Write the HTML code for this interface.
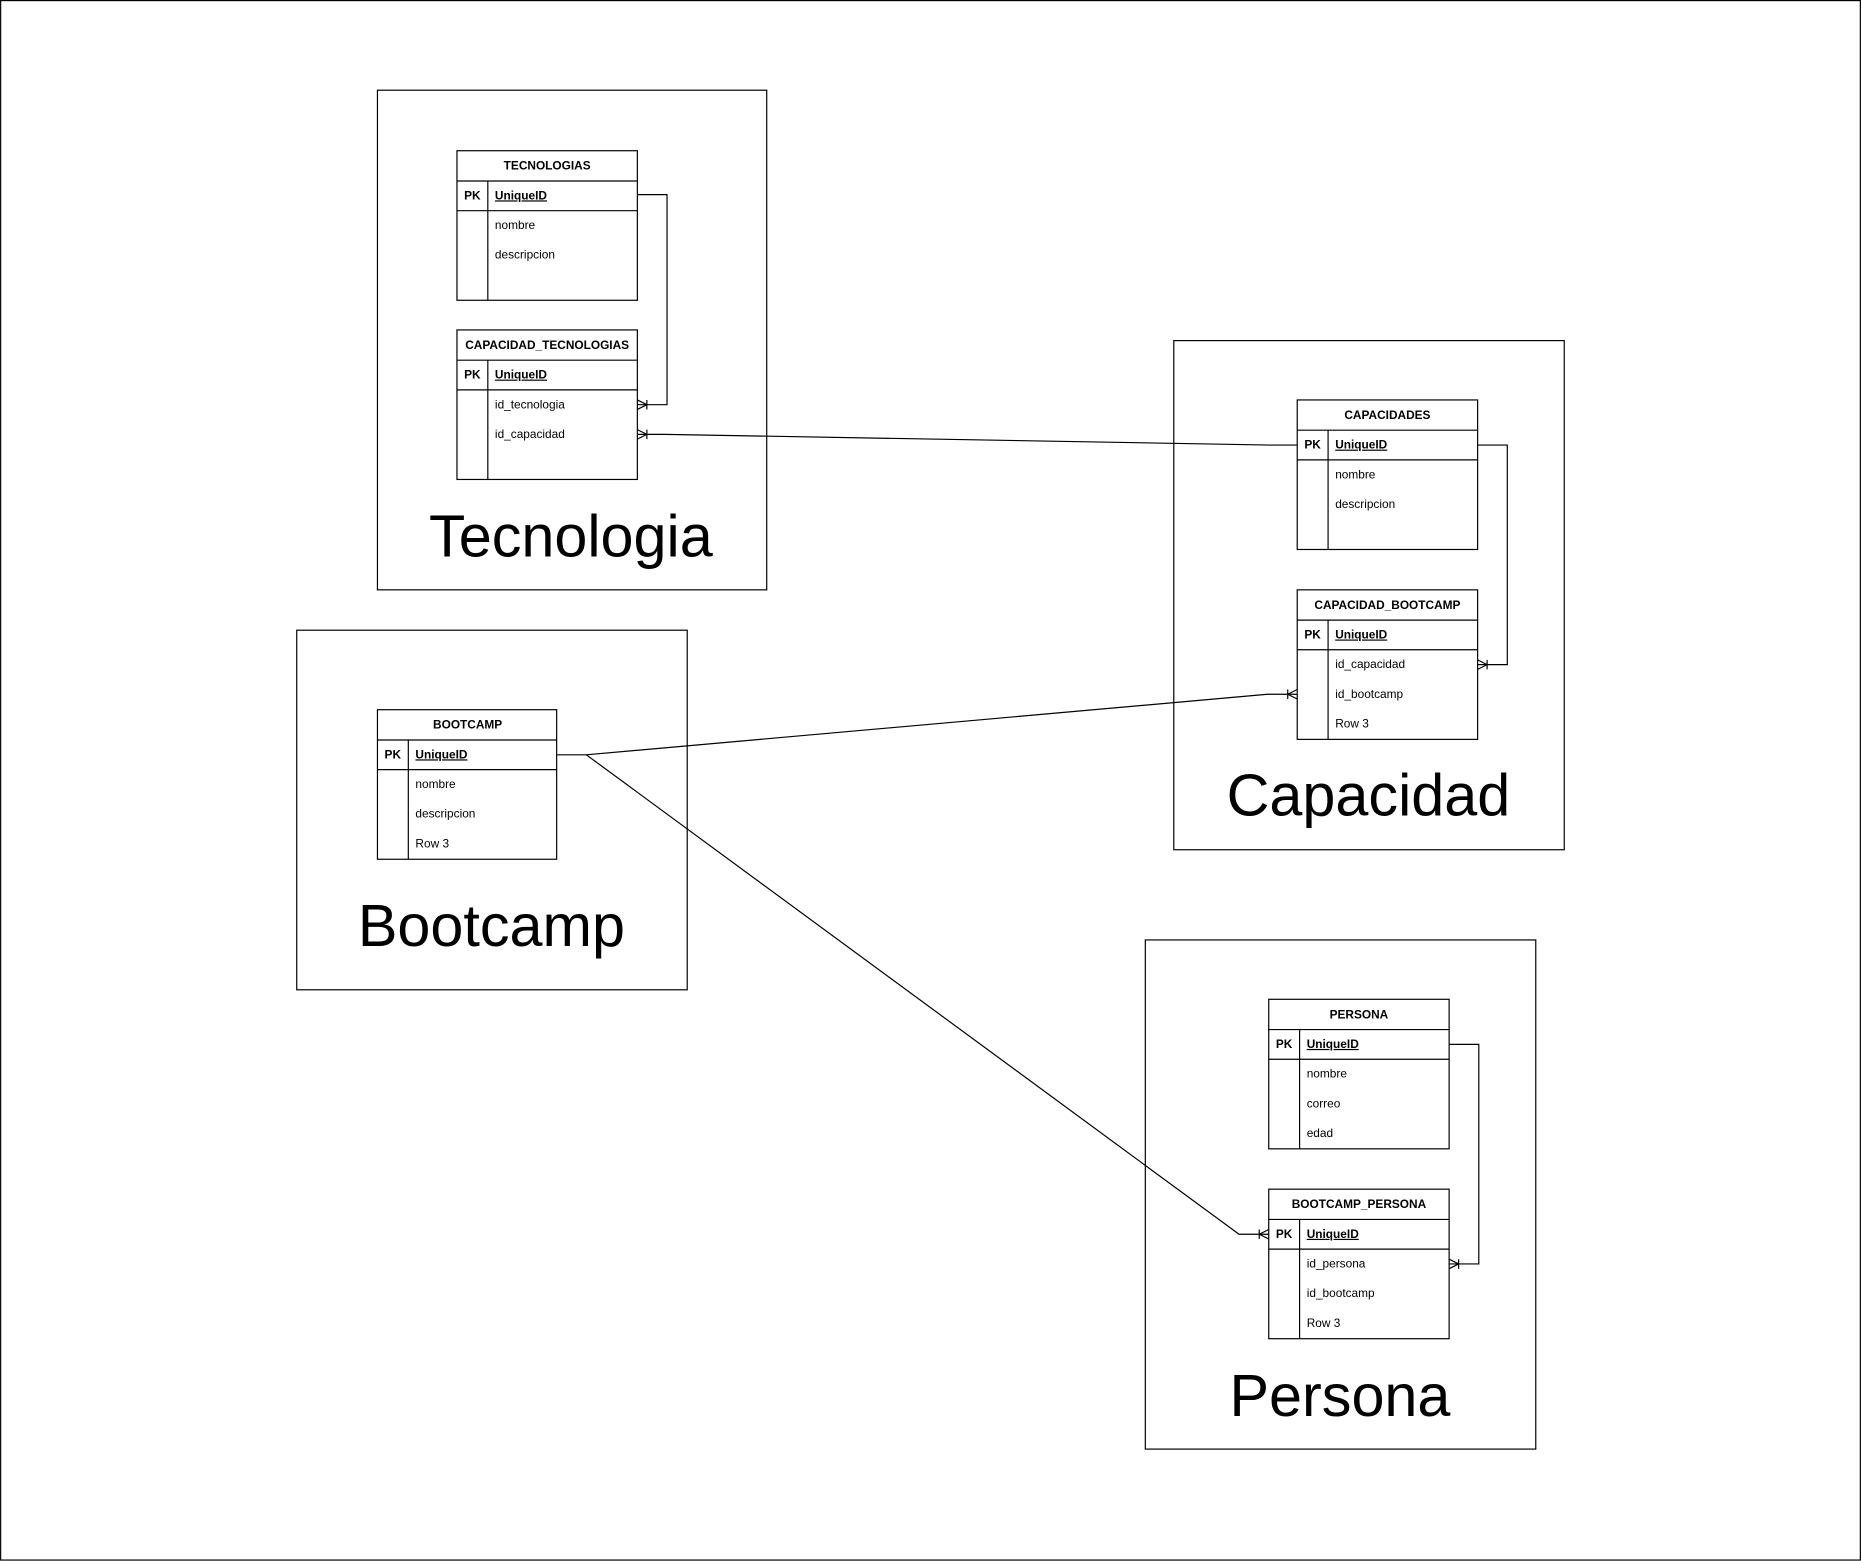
<!DOCTYPE html>
<html><head><meta charset="utf-8"><style>html,body{margin:0;padding:0;background:#fff}svg{display:block}</style></head>
<body>
<svg width="1861" height="1561" viewBox="0 0 1568 1315.3" xmlns="http://www.w3.org/2000/svg" font-family="Liberation Sans, Arial, sans-serif">
<rect x="0.5" y="0.5" width="1567" height="1314" fill="#fff" stroke="#000" stroke-width="1"/>
<g fill="none" stroke="#000" stroke-width="1">
<rect x="318" y="76" width="328" height="421"/>
<rect x="989" y="287" width="329" height="429"/>
<rect x="250" y="531" width="329" height="303"/>
<rect x="965" y="792" width="329" height="429"/>
</g>
<g font-size="50" text-anchor="middle" fill="#000">
<text x="481" y="469">Tecnologia</text>
<text x="1153" y="687">Capacidad</text>
<text x="414" y="797">Bootcamp</text>
<text x="1129" y="1193">Persona</text>
</g>
<g id="tables" font-size="10" fill="#000">
<g transform="translate(385,127)">
<rect x="0" y="0" width="152" height="126" fill="#fff" stroke="#000"/>
<line x1="0" y1="25.5" x2="152" y2="25.5" stroke="#000"/><line x1="0" y1="50.5" x2="152" y2="50.5" stroke="#000"/><line x1="26" y1="25.5" x2="26" y2="126" stroke="#000"/>
<text x="76" y="16" text-anchor="middle" font-weight="bold">TECNOLOGIAS</text>
<text x="6" y="41" font-weight="bold">PK</text><text x="32" y="41" font-weight="bold" text-decoration="underline">UniqueID</text>
<text x="32" y="66">nombre</text><text x="32" y="91">descripcion</text>
</g>
<g transform="translate(385,278)">
<rect x="0" y="0" width="152" height="126" fill="#fff" stroke="#000"/>
<line x1="0" y1="25.5" x2="152" y2="25.5" stroke="#000"/><line x1="0" y1="50.5" x2="152" y2="50.5" stroke="#000"/><line x1="26" y1="25.5" x2="26" y2="126" stroke="#000"/>
<text x="76" y="16" text-anchor="middle" font-weight="bold">CAPACIDAD_TECNOLOGIAS</text>
<text x="6" y="41" font-weight="bold">PK</text><text x="32" y="41" font-weight="bold" text-decoration="underline">UniqueID</text>
<text x="32" y="66">id_tecnologia</text><text x="32" y="91">id_capacidad</text>
</g>
<g transform="translate(1093,337)">
<rect x="0" y="0" width="152" height="126" fill="#fff" stroke="#000"/>
<line x1="0" y1="25.5" x2="152" y2="25.5" stroke="#000"/><line x1="0" y1="50.5" x2="152" y2="50.5" stroke="#000"/><line x1="26" y1="25.5" x2="26" y2="126" stroke="#000"/>
<text x="76" y="16" text-anchor="middle" font-weight="bold">CAPACIDADES</text>
<text x="6" y="41" font-weight="bold">PK</text><text x="32" y="41" font-weight="bold" text-decoration="underline">UniqueID</text>
<text x="32" y="66">nombre</text><text x="32" y="91">descripcion</text>
</g>
<g transform="translate(1093,497)">
<rect x="0" y="0" width="152" height="126" fill="#fff" stroke="#000"/>
<line x1="0" y1="25.5" x2="152" y2="25.5" stroke="#000"/><line x1="0" y1="50.5" x2="152" y2="50.5" stroke="#000"/><line x1="26" y1="25.5" x2="26" y2="126" stroke="#000"/>
<text x="76" y="16" text-anchor="middle" font-weight="bold">CAPACIDAD_BOOTCAMP</text>
<text x="6" y="41" font-weight="bold">PK</text><text x="32" y="41" font-weight="bold" text-decoration="underline">UniqueID</text>
<text x="32" y="66">id_capacidad</text><text x="32" y="91">id_bootcamp</text><text x="32" y="116">Row 3</text>
</g>
<g transform="translate(318,598)">
<rect x="0" y="0" width="151" height="126" fill="#fff" stroke="#000"/>
<line x1="0" y1="25.5" x2="151" y2="25.5" stroke="#000"/><line x1="0" y1="50.5" x2="151" y2="50.5" stroke="#000"/><line x1="26" y1="25.5" x2="26" y2="126" stroke="#000"/>
<text x="76" y="16" text-anchor="middle" font-weight="bold">BOOTCAMP</text>
<text x="6" y="41" font-weight="bold">PK</text><text x="32" y="41" font-weight="bold" text-decoration="underline">UniqueID</text>
<text x="32" y="66">nombre</text><text x="32" y="91">descripcion</text><text x="32" y="116">Row 3</text>
</g>
<g transform="translate(1069,842)">
<rect x="0" y="0" width="152" height="126" fill="#fff" stroke="#000"/>
<line x1="0" y1="25.5" x2="152" y2="25.5" stroke="#000"/><line x1="0" y1="50.5" x2="152" y2="50.5" stroke="#000"/><line x1="26" y1="25.5" x2="26" y2="126" stroke="#000"/>
<text x="76" y="16" text-anchor="middle" font-weight="bold">PERSONA</text>
<text x="6" y="41" font-weight="bold">PK</text><text x="32" y="41" font-weight="bold" text-decoration="underline">UniqueID</text>
<text x="32" y="66">nombre</text><text x="32" y="91">correo</text><text x="32" y="116">edad</text>
</g>
<g transform="translate(1069,1002)">
<rect x="0" y="0" width="152" height="126" fill="#fff" stroke="#000"/>
<line x1="0" y1="25.5" x2="152" y2="25.5" stroke="#000"/><line x1="0" y1="50.5" x2="152" y2="50.5" stroke="#000"/><line x1="26" y1="25.5" x2="26" y2="126" stroke="#000"/>
<text x="76" y="16" text-anchor="middle" font-weight="bold">BOOTCAMP_PERSONA</text>
<text x="6" y="41" font-weight="bold">PK</text><text x="32" y="41" font-weight="bold" text-decoration="underline">UniqueID</text>
<text x="32" y="66">id_persona</text><text x="32" y="91">id_bootcamp</text><text x="32" y="116">Row 3</text>
</g>
</g>
<g fill="none" stroke="#000" stroke-width="1">
<polyline points="537,164 562,164 562,341 537,341"/>
<polyline points="1093,375 1070,375 560,366 537,366"/>
<polyline points="1245,375 1270,375 1270,560 1245,560"/>
<polyline points="469,636 494,636 1068,585 1093,585"/>
<polyline points="494,636 1044,1040 1069,1040"/>
<polyline points="1221,880 1246,880 1246,1065 1221,1065"/>
<path d="M545,341 L537,337 M545,341 L537,345 M545,337 V345"/>
<path d="M545,366 L537,362 M545,366 L537,370 M545,362 V370"/>
<path d="M1253,560 L1245,556 M1253,560 L1245,564 M1253,556 V564"/>
<path d="M1229,1065 L1221,1061 M1229,1065 L1221,1069 M1229,1061 V1069"/>
<path d="M1085,585 L1093,581 M1085,585 L1093,589 M1085,581 V589"/>
<path d="M1061,1040 L1069,1036 M1061,1040 L1069,1044 M1061,1036 V1044"/>
</g>
</svg>
</body></html>
